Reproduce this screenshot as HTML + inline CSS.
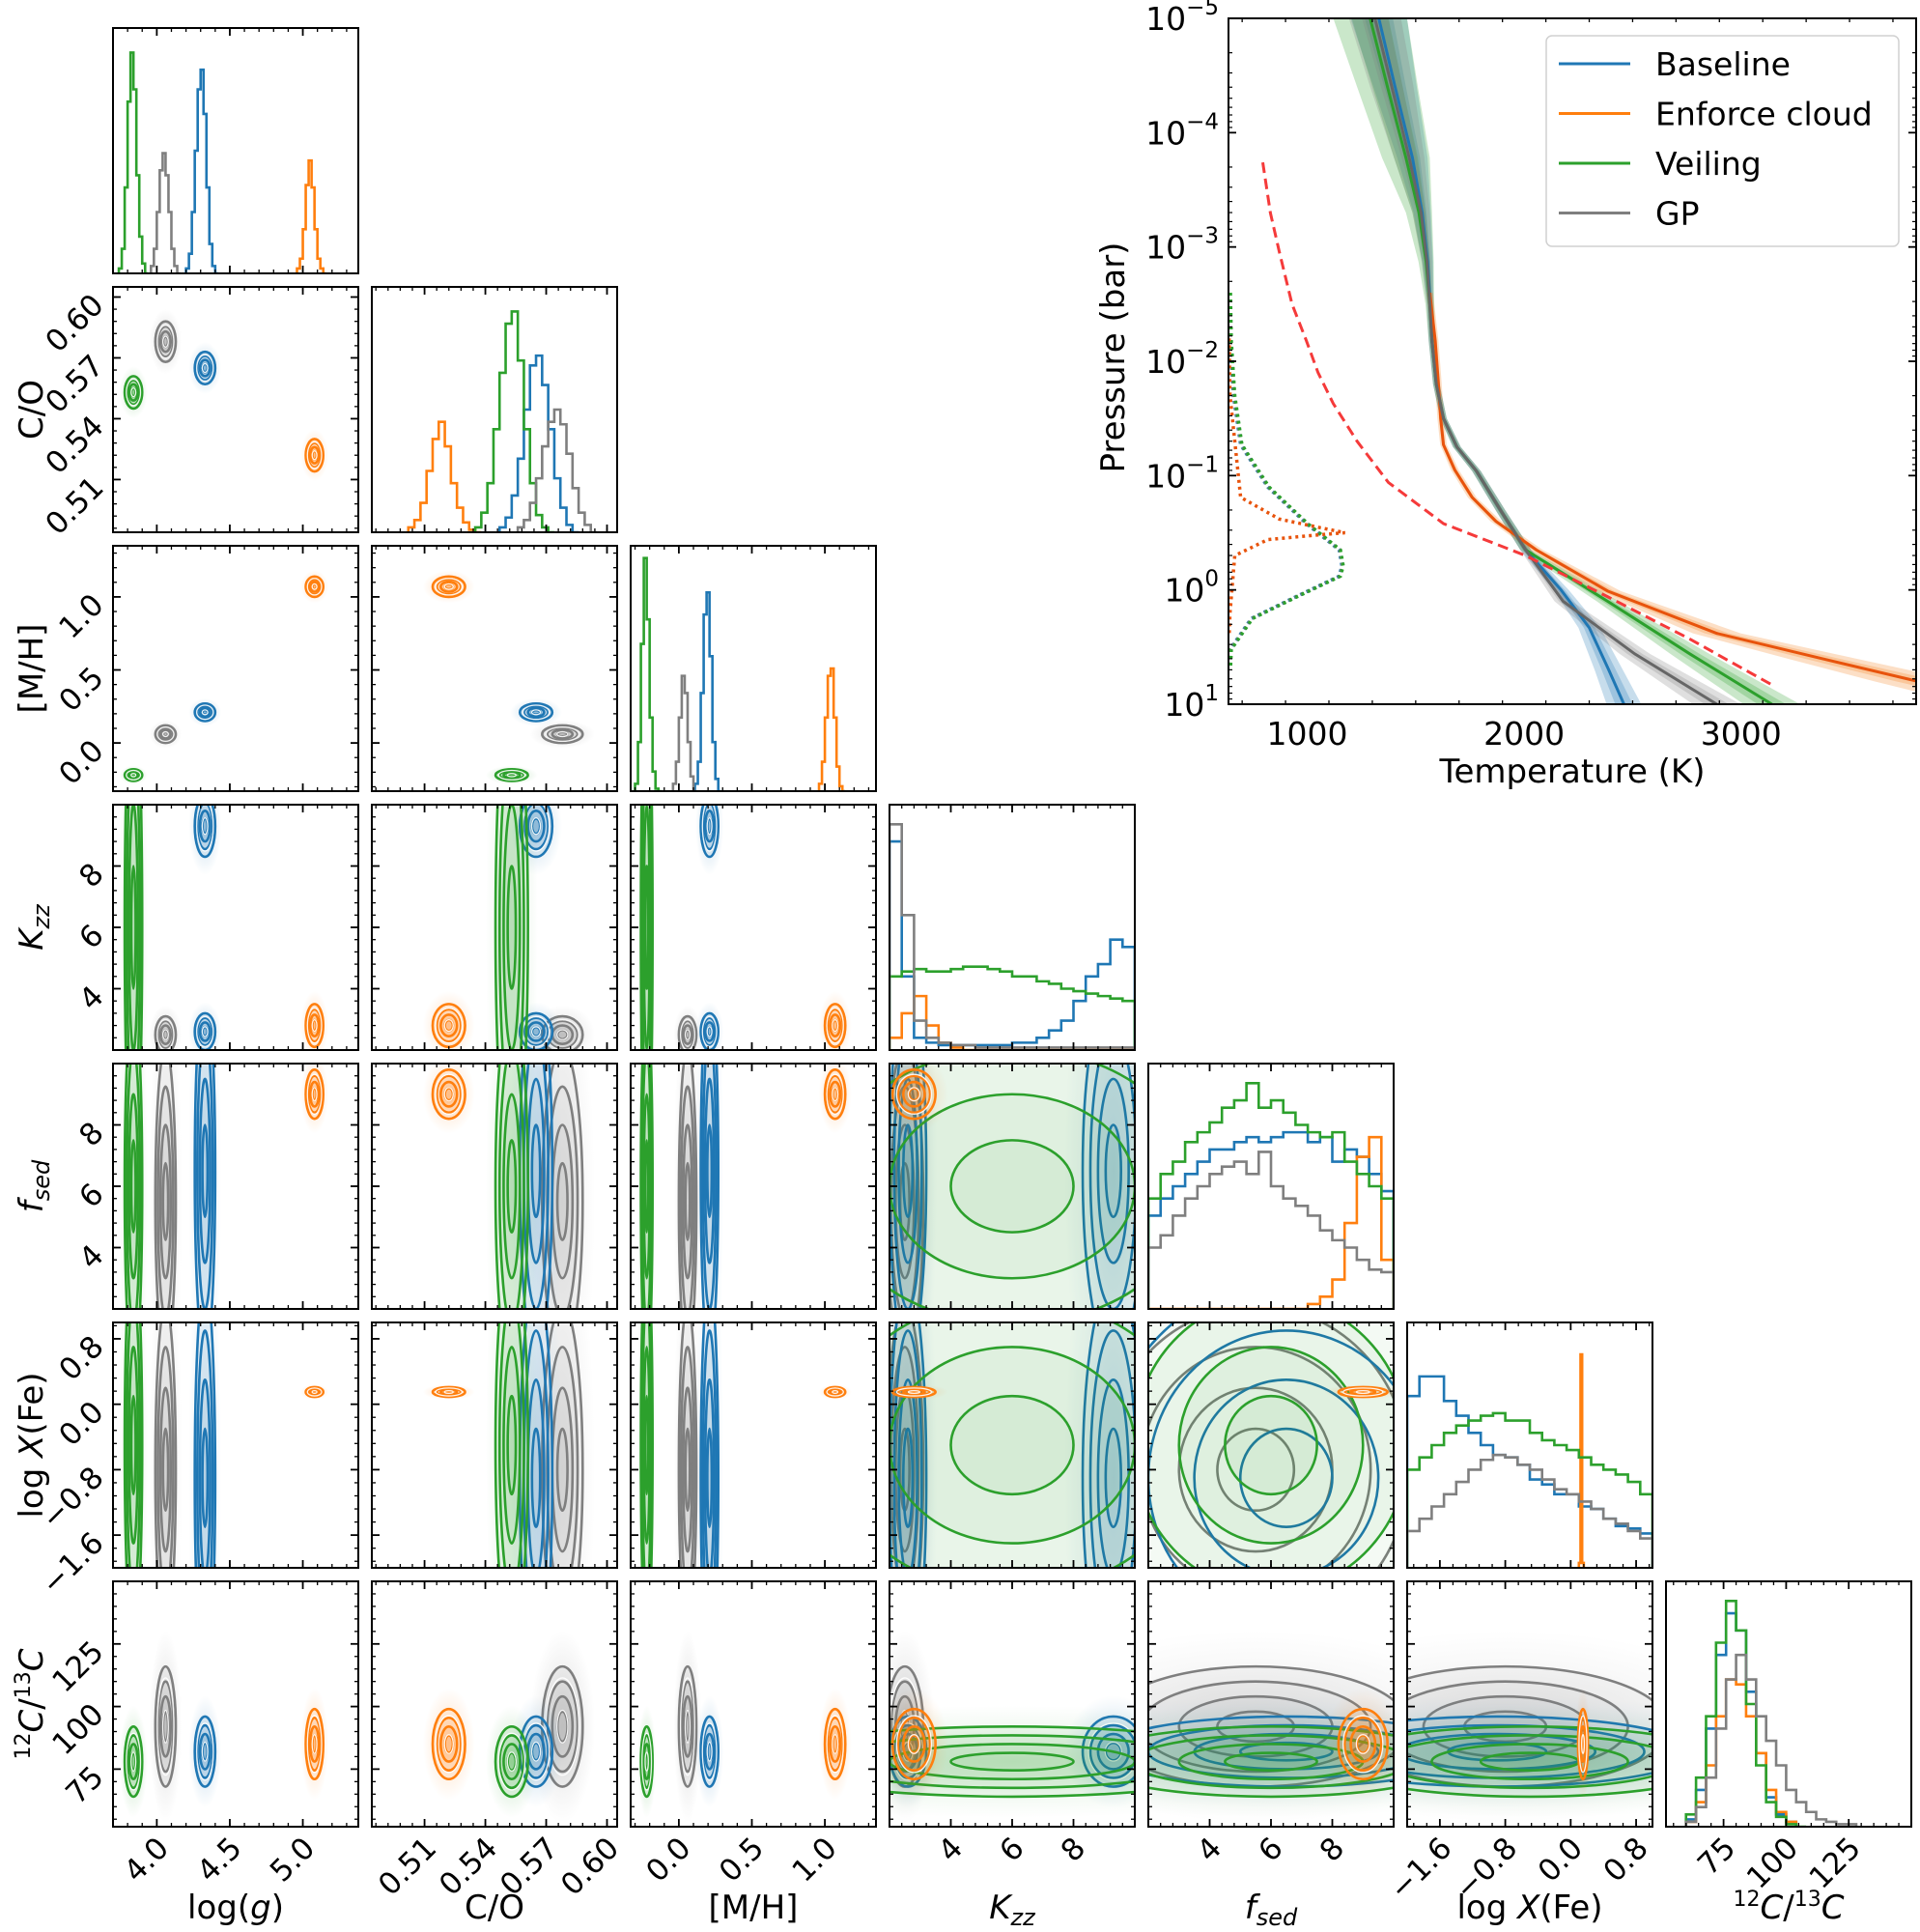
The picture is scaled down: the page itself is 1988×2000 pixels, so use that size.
<!DOCTYPE html>
<html><head><meta charset="utf-8"><style>
html,body{margin:0;padding:0;background:#fff}
svg{display:block;font-family:"DejaVu Sans","Liberation Sans",sans-serif}
</style></head><body>
<svg id="fig" width="1988" height="2000" viewBox="0 0 1988 2000" xmlns="http://www.w3.org/2000/svg">
<defs id="defs"></defs>
</svg>
<script>
// ---------- corner data ----------
const paramNames=['logg','co','mh','kzz','fsed','fe','c13'];
const rangeLo=[3.7,0.484,-0.33,2,2,-2,52];
const rangeHi=[5.38,0.605,1.35,10,10,1,150];
const majorTicks=[[4.0,4.5,5.0],[0.51,0.54,0.57,0.60],[0.0,0.5,1.0],[4,6,8],[4,6,8],[-1.6,-0.8,0.0,0.8],[75,100,125]];
const tickLabels=[['4.0','4.5','5.0'],['0.51','0.54','0.57','0.60'],['0.0','0.5','1.0'],['4','6','8'],['4','6','8'],['\u22121.6','\u22120.8','0.0','0.8'],['75','100','125']];
const minorStep=[0.1,0.006,0.1,0.4,0.4,0.16,5];
const seriesNames=['gp','baseline','veiling','enforce-cloud'];
const seriesColors=['#7f7f7f','#1f77b4','#2ca02c','#ff7f0e'];
// posterior modes: [mean, sd] per parameter
const gpModes=[[[4.06,0.035]],[[0.578,0.005]],[[0.06,0.03]],[[2.5,0.3]],[[5.5,2.5]],[[-0.8,1.0]],[[92,12]]];
const baselineModes=[[[4.33,0.035]],[[0.565,0.004]],[[0.21,0.03]],[[9.3,0.5],[2.6,0.3]],[[6.5,3]],[[-0.9,1.2]],[[82,7]]];
const veilingModes=[[[3.84,0.03]],[[0.553,0.004]],[[-0.22,0.02]],[[6,4]],[[6,3]],[[-0.5,1.2]],[[78,7]]];
const enforceModes=[[[5.08,0.03]],[[0.522,0.004]],[[1.07,0.035]],[[2.8,0.35]],[[9.0,0.4]],[[0.15,0.03]],[[85,7]]];
// histograms: start, bin width, heights (fraction of panel)
const histStart=[[3.96,4.2,3.74,4.96],[0.556,0.547,0.535,0.502],[-0.04,0.11,-0.3,0.96],[2,2,2,2],[2,2,2,2],[-2,-2,-2,0.1],[60,60,60,60]];
const histWidth=[0.02,0.003,0.02,0.4,0.4,0.15,4];
const histFeOrangeWidth=0.02;
const histGp=[[0.03,0.1,0.25,0.42,0.49,0.4,0.25,0.1,0.03,0],[0.02,0.05,0.12,0.22,0.35,0.45,0.5,0.44,0.32,0.18,0.08,0.03,0],[0.03,0.12,0.3,0.47,0.4,0.2,0.06,0],[0.92,0.55,0.12,0.05,0.03,0.02,0.02,0.01,0.01,0.01,0.01,0.01,0.01,0.01,0.01,0.01,0.01,0.01,0.01,0.01],[0.25,0.3,0.38,0.45,0.5,0.55,0.58,0.6,0.55,0.64,0.5,0.45,0.42,0.38,0.32,0.28,0.25,0.2,0.16,0.15],[0.15,0.2,0.25,0.3,0.35,0.4,0.44,0.46,0.45,0.42,0.4,0.36,0.32,0.3,0.27,0.24,0.2,0.18,0.15,0.12],[0.02,0.08,0.2,0.4,0.6,0.7,0.6,0.45,0.35,0.25,0.15,0.1,0.06,0.03,0.02,0.01,0.01]];
const histBaseline=[[0.02,0.08,0.25,0.5,0.75,0.83,0.65,0.35,0.12,0.03,0],[0.02,0.06,0.15,0.3,0.5,0.68,0.72,0.6,0.42,0.22,0.1,0.03,0],[0.03,0.12,0.4,0.72,0.81,0.55,0.2,0.05,0],[0.85,0.3,0.05,0.03,0.02,0.02,0.02,0.02,0.02,0.02,0.03,0.03,0.05,0.08,0.12,0.2,0.3,0.35,0.45,0.42],[0.38,0.45,0.5,0.55,0.6,0.65,0.65,0.68,0.7,0.68,0.7,0.72,0.72,0.68,0.7,0.6,0.65,0.62,0.55,0.48],[0.7,0.78,0.78,0.68,0.62,0.55,0.5,0.46,0.45,0.42,0.36,0.34,0.3,0.3,0.25,0.24,0.2,0.17,0.16,0.14],[0.03,0.15,0.4,0.7,0.87,0.8,0.55,0.3,0.12,0.05,0.02]];
const histVeiling=[[0.02,0.1,0.35,0.7,0.9,0.75,0.4,0.15,0.04,0],[0.02,0.08,0.2,0.42,0.65,0.85,0.9,0.7,0.42,0.2,0.07,0.02,0],[0.03,0.2,0.6,0.95,0.7,0.3,0.08,0.01,0],[0.3,0.32,0.33,0.32,0.32,0.33,0.34,0.34,0.33,0.32,0.3,0.3,0.28,0.27,0.25,0.24,0.23,0.22,0.21,0.2],[0.45,0.55,0.6,0.68,0.72,0.76,0.82,0.85,0.92,0.82,0.85,0.8,0.75,0.72,0.7,0.72,0.6,0.55,0.5,0.45],[0.4,0.45,0.5,0.55,0.58,0.6,0.62,0.63,0.6,0.6,0.55,0.52,0.5,0.48,0.45,0.42,0.4,0.38,0.35,0.3],[0.05,0.2,0.45,0.75,0.92,0.8,0.5,0.25,0.1,0.04,0.01,0]];
const histEnforce=[[0.02,0.06,0.18,0.36,0.46,0.35,0.18,0.06,0.02,0],[0.02,0.05,0.12,0.25,0.38,0.45,0.35,0.2,0.1,0.04,0.01,0],[0.03,0.12,0.3,0.47,0.5,0.3,0.1,0.02,0],[0.05,0.15,0.22,0.1,0.03,0.01,0,0,0,0,0,0,0,0,0,0,0,0,0,0],[0,0,0,0,0,0,0,0,0,0,0,0,0,0.02,0.05,0.12,0.35,0.62,0.7,0.2],[0.02,0.87,0.02],[0.02,0.1,0.25,0.45,0.6,0.58,0.45,0.3,0.15,0.06,0.02]];

// ---------- P-T data ----------
const tempTicks=[1000,2000,3000];
const presTicks=[-5,-4,-3,-2,-1,0,1];
const presTickLabels=['\u22125','\u22124','\u22123','\u22122','\u22121','0','1'];
const gpLogP=[-5,-4.4,-3.78,-3.3,-2.87,-2.5,-2.18,-1.8,-1.5,-1.25,-1.04,-0.7,-0.35,0.1,0.56,1.0];
const gpTemp=[1312,1390,1470,1525,1552,1565,1575,1595,1628,1690,1780,1890,2007,2180,2510,2888];
const gpWidth=[120,100,70,40,25,15,15,15,15,18,20,22,25,40,70,110];
const baselineLogP=[-5,-4.4,-3.78,-3.3,-2.87,-2.5,-2.18,-1.8,-1.5,-1.25,-1.04,-0.7,-0.35,0,0.33,0.7,1.0];
const baselineTemp=[1330,1405,1485,1530,1555,1567,1575,1595,1628,1690,1780,1890,2007,2170,2300,2390,2460];
const baselineWidth=[130,100,70,40,25,15,15,15,15,18,20,22,25,35,50,65,80];
const veilingLogP=[-5,-4.4,-3.78,-3.3,-2.87,-2.5,-2.18,-1.8,-1.5,-1.25,-1.04,-0.7,-0.35,0.1,0.56,1.0];
const veilingTemp=[1290,1370,1455,1515,1548,1565,1575,1595,1628,1690,1780,1890,2007,2385,2764,3142];
const veilingWidth=[170,140,110,60,35,20,15,15,15,18,20,22,25,50,90,130];
const enforceLogP=[-2.6,-2.18,-1.8,-1.5,-1.27,-1.05,-0.81,-0.6,-0.35,0.01,0.38,0.61,0.8,1.0];
const enforceTemp=[1565,1590,1605,1615,1628,1680,1760,1870,2056,2385,2888,3392,3815,4300];
const enforceWidth=[15,15,15,15,15,18,20,25,30,60,110,160,200,260];
const adiabatLogP=[-3.74,-3.3,-2.96,-2.5,-2.18,-1.9,-1.63,-1.3,-0.94,-0.58,-0.3,0.06,0.43,0.84];
const adiabatTemp=[795,830,871,930,996,1050,1120,1230,1374,1628,2007,2385,2764,3151];
const cloudLogP=[-2.6,-2.18,-1.7,-1.27,-0.9,-0.58,-0.35,-0.21,-0.12,0.06,0.25,0.52,0.7];
const cloudTemp=[640,644,660,693,818,996,1147,1160,1147,947,742,644,640];
const cloudEnfLogP=[-2.2,-1.7,-0.81,-0.62,-0.55,-0.5,-0.48,-0.44,-0.3,0.2,0.4];
const cloudEnfTemp=[640,644,693,871,1045,1174,1045,818,666,644,640];

// ---------- helpers ----------
const NS='http://www.w3.org/2000/svg';
const svg=document.getElementById('fig');
const defs=document.getElementById('defs');
function mk(tag,attrs,parent){const e=document.createElementNS(NS,tag);for(const k in attrs)e.setAttribute(k,attrs[k]);(parent||svg).appendChild(e);return e;}
const S=254,X0=117,Y0=29,P=268;
const colX=i=>X0+P*i, rowY=i=>Y0+P*i;
const fx=(p,v,c)=>colX(c)+(v-rangeLo[p])/(rangeHi[p]-rangeLo[p])*S;
const fy=(p,v,r)=>rowY(r)+S-(v-rangeLo[p])/(rangeHi[p]-rangeLo[p])*S;
const allModes=[gpModes,baselineModes,veilingModes,enforceModes];
const allHist=[histGp,histBaseline,histVeiling,histEnforce];

seriesColors.forEach((c,k)=>{
  const g=mk('radialGradient',{id:'cloud'+k},defs);
  mk('stop',{offset:'0%','stop-color':c,'stop-opacity':0.3},g);
  mk('stop',{offset:'60%','stop-color':c,'stop-opacity':0.1},g);
  mk('stop',{offset:'100%','stop-color':c,'stop-opacity':0},g);
});

function drawTicks(g,c,r,px,py){
  const L=colX(c),T=rowY(r),R=L+S,B=T+S;
  if(px!==null){
    for(let v=Math.ceil(rangeLo[px]/minorStep[px]-1e-6)*minorStep[px];v<=rangeHi[px]+1e-9;v+=minorStep[px]){
      const x=fx(px,v,c);mk('line',{x1:x,x2:x,y1:B,y2:B-4,stroke:'#000','stroke-width':1.3},g);mk('line',{x1:x,x2:x,y1:T,y2:T+4,stroke:'#000','stroke-width':1.3},g);}
    majorTicks[px].forEach(v=>{const x=fx(px,v,c);mk('line',{x1:x,x2:x,y1:B,y2:B-8,stroke:'#000','stroke-width':1.8},g);mk('line',{x1:x,x2:x,y1:T,y2:T+8,stroke:'#000','stroke-width':1.8},g);});
  }
  if(py!==null){
    for(let v=Math.ceil(rangeLo[py]/minorStep[py]-1e-6)*minorStep[py];v<=rangeHi[py]+1e-9;v+=minorStep[py]){
      const y=fy(py,v,r);mk('line',{x1:L,x2:L+4,y1:y,y2:y,stroke:'#000','stroke-width':1.3},g);mk('line',{x1:R,x2:R-4,y1:y,y2:y,stroke:'#000','stroke-width':1.3},g);}
    majorTicks[py].forEach(v=>{const y=fy(py,v,r);mk('line',{x1:L,x2:L+8,y1:y,y2:y,stroke:'#000','stroke-width':1.8},g);mk('line',{x1:R,x2:R-8,y1:y,y2:y,stroke:'#000','stroke-width':1.8},g);});
  }
}

for(let r=0;r<7;r++){for(let c=0;c<=r;c++){
  const g=mk('g',{});
  
  
  const cp=mk('clipPath',{id:'cp'+r+'_'+c},defs);
  mk('rect',{x:colX(c),y:rowY(r),width:S,height:S},cp);
  const inner=mk('g',{'clip-path':'url(#cp'+r+'_'+c+')'},g);
  if(r===c){
    const hOrder=[1,3,2,0];
    hOrder.forEach(k=>{
      const h=allHist[k][r];const w=(r===5&&k===3)?histFeOrangeWidth:histWidth[r];const s0=histStart[r][k];
      const base=rowY(r)+S;let d='M'+fx(r,s0,c)+','+base;
      h.forEach((v,i)=>{const y=base-v*S;d+=' L'+fx(r,s0+i*w,c)+','+y+' L'+fx(r,s0+(i+1)*w,c)+','+y;});
      d+=' L'+fx(r,s0+h.length*w,c)+','+base;
      const p=mk('path',{d:d,fill:'none',stroke:seriesColors[k],'stroke-width':2.6},inner);
      
      
    });
    drawTicks(g,c,r,r,null);
  } else {
    [0,1,2,3].forEach(k=>{
      allModes[k][c].forEach(mx=>{allModes[k][r].forEach(my=>{
        const cx=fx(c,mx[0],c),cy=fy(r,my[0],r);
        const sxp=mx[1]/(rangeHi[c]-rangeLo[c])*S,syp=my[1]/(rangeHi[r]-rangeLo[r])*S;
        const broad=sxp>40&&syp>40;
        const wide=sxp>40||syp>40;
        if(!broad){
          const cl=mk('ellipse',{cx:cx,cy:cy,rx:sxp*3.2,ry:syp*3.2,fill:'url(#cloud'+k+')','fill-opacity':wide?0.6:1},inner);
          
          
        }
        [2,1.5,1,0.5].forEach((m,i)=>{
          const fo=broad?(k===2?0.05:0):(wide?0.05:0.08);
          const e=mk('ellipse',{cx:cx,cy:cy,rx:sxp*m,ry:syp*m,fill:seriesColors[k],'fill-opacity':fo,stroke:seriesColors[k],'stroke-width':2.6},inner);
          
          
        });
        if(!wide){[1.5,0.5].forEach(m=>{
          const e=mk('ellipse',{cx:cx,cy:cy,rx:sxp*m*1.08,ry:syp*m*1.08,fill:'none',stroke:'#fff','stroke-width':1.3,'stroke-opacity':0.9},inner);
          
          
        });}
      });});
    });
    drawTicks(g,c,r,c,r);
  }
  const fr=mk('rect',{x:colX(c),y:rowY(r),width:S,height:S,fill:'none',stroke:'#000','stroke-width':2},g);
  
  
  if(r===6){majorTicks[c].forEach((v,i)=>{const x=fx(c,v,c)+14,y=rowY(6)+S+24;
    const t=mk('text',{x:x,y:y,'font-size':31,'text-anchor':'end',transform:'rotate(-45 '+x+' '+y+')'},g);t.textContent=tickLabels[c][i];
    });}
  if(c===0&&r>0){majorTicks[r].forEach((v,i)=>{const x=colX(0)-8,y=fy(r,v,r)+10;
    const t=mk('text',{x:x,y:y,'font-size':31,'text-anchor':'end',transform:'rotate(-45 '+x+' '+y+')'},g);t.textContent=tickLabels[r][i];
    });}
}}

const labelHTML=['log(<tspan font-style="italic">g</tspan>)','C/O','[M/H]','<tspan font-style="italic">K</tspan><tspan font-style="italic" font-size="24" dy="7">zz</tspan>','<tspan font-style="italic">f</tspan><tspan font-style="italic" font-size="24" dy="7">sed</tspan>','log <tspan font-style="italic">X</tspan>(Fe)','<tspan font-size="22" dy="-13">12</tspan><tspan font-style="italic" dy="13">C</tspan>/<tspan font-size="22" dy="-13">13</tspan><tspan font-style="italic" dy="13">C</tspan>'];
for(let i=0;i<7;i++){
  const t=mk('text',{x:colX(i)+S/2,y:1986,'font-size':34,'text-anchor':'middle'});t.innerHTML=labelHTML[i];
  
  if(i>0){const cy=rowY(i)+S/2;const u=mk('text',{x:44,y:cy,'font-size':34,'text-anchor':'middle',transform:'rotate(-90 44 '+cy+')'});u.innerHTML=labelHTML[i];
  }
}

// ---------- P-T panel ----------
const PL=1272,PR=1984,PT=19,PB=729,Tlo=637,Thi=3807;
const tx=T=>PL+(T-Tlo)/(Thi-Tlo)*(PR-PL);
const py=lp=>PT+(lp+5)/6*(PB-PT);
const pg=mk('g',{});


const pcp=mk('clipPath',{id:'ptclip'},defs);mk('rect',{x:PL,y:PT,width:PR-PL,height:PB-PT},pcp);
const pin=mk('g',{'clip-path':'url(#ptclip)'},pg);
function band(lp,T,W,m){let a=[],b=[];lp.forEach((p,i)=>{a.push(tx(T[i]-W[i]*m)+','+py(p));b.unshift(tx(T[i]+W[i]*m)+','+py(p));});return a.concat(b).join(' ');}
function line(lp,T){return lp.map((p,i)=>(i?'L':'M')+tx(T[i])+','+py(p)).join(' ');}
const ptSets=[[baselineLogP,baselineTemp,baselineWidth,'#1f77b4','baseline'],[veilingLogP,veilingTemp,veilingWidth,'#2ca02c','veiling'],[enforceLogP,enforceTemp,enforceWidth,'#f5801a','enforce-cloud'],[gpLogP,gpTemp,gpWidth,'#7f7f7f','gp']];
ptSets.forEach(s=>{
  [1,0.5].forEach(m=>{const b=mk('polygon',{points:band(s[0],s[1],s[2],m),fill:s[3],'fill-opacity':0.25},pin);
    });
});
ptSets.forEach(s=>{const l=mk('path',{d:line(s[0],s[1]),fill:'none',stroke:s[4]==='enforce-cloud'?'#e8530c':(s[4]==='gp'?'#666':s[3]),'stroke-width':3},pin);
  });
let l2=mk('path',{d:line(adiabatLogP,adiabatTemp),fill:'none',stroke:'#f53a3a','stroke-width':3,'stroke-dasharray':'11 6'},pin);

[['#1f77b4',0],['#7f7f7f',3],['#2ca02c',6]].forEach(s=>{const d=mk('path',{d:line(cloudLogP,cloudTemp.map(t=>t+s[1])),fill:'none',stroke:s[0],'stroke-width':3.5,'stroke-dasharray':'3 4'},pin);
  });
let l3=mk('path',{d:line(cloudEnfLogP,cloudEnfTemp),fill:'none',stroke:'#e8530c','stroke-width':3.5,'stroke-dasharray':'3 4'},pin);

for(let T=700;T<=3800;T+=200){const x=tx(T);const maj=T%1000===0;mk('line',{x1:x,x2:x,y1:PB,y2:PB-(maj?8:4),stroke:'#000','stroke-width':maj?1.8:1.3},pg);mk('line',{x1:x,x2:x,y1:PT,y2:PT+(maj?8:4),stroke:'#000','stroke-width':maj?1.8:1.3},pg);}
presTicks.forEach((p,i)=>{const y=py(p);mk('line',{x1:PL,x2:PL+8,y1:y,y2:y,stroke:'#000','stroke-width':1.8},pg);mk('line',{x1:PR,x2:PR-8,y1:y,y2:y,stroke:'#000','stroke-width':1.8},pg);
  if(i<6){for(let k=2;k<10;k++){const ym=py(p+Math.log10(k));mk('line',{x1:PL,x2:PL+4,y1:ym,y2:ym,stroke:'#000','stroke-width':1.2},pg);mk('line',{x1:PR,x2:PR-4,y1:ym,y2:ym,stroke:'#000','stroke-width':1.2},pg);}}
  const t=mk('text',{x:PL-10,y:y+12,'font-size':33,'text-anchor':'end'},pg);t.innerHTML='10<tspan font-size="23" dy="-16">'+presTickLabels[i]+'</tspan>';
  });
tempTicks.forEach(T=>{const t=mk('text',{x:tx(T),y:PB+42,'font-size':33,'text-anchor':'middle'},pg);t.textContent=String(T);
  });
const pf=mk('rect',{x:PL,y:PT,width:PR-PL,height:PB-PT,fill:'none',stroke:'#000','stroke-width':2},pg);

let xt=mk('text',{x:1628,y:810,'font-size':34,'text-anchor':'middle'},pg);xt.textContent='Temperature (K)';

let yt=mk('text',{x:1164,y:370,'font-size':34,'text-anchor':'middle',transform:'rotate(-90 1164 370)'},pg);yt.textContent='Pressure (bar)';

const lg=mk('g',{},pg);

mk('rect',{x:1601,y:37,width:365,height:218,rx:6,fill:'#fff','fill-opacity':0.85,stroke:'#d0d0d0','stroke-width':1.5},lg);
const legendLabels=['Baseline','Enforce cloud','Veiling','GP'];
const legendColors=['#1f77b4','#ff7f0e','#2ca02c','#7f7f7f'];
legendLabels.forEach((n,i)=>{const y=66+51.5*i;
  const e=mk('g',{},lg);
  mk('line',{x1:1614,x2:1688,y1:y,y2:y,stroke:legendColors[i],'stroke-width':3},e);
  const t=mk('text',{x:1714,y:y+12,'font-size':33},e);t.textContent=n;});
</script>
</body></html>
